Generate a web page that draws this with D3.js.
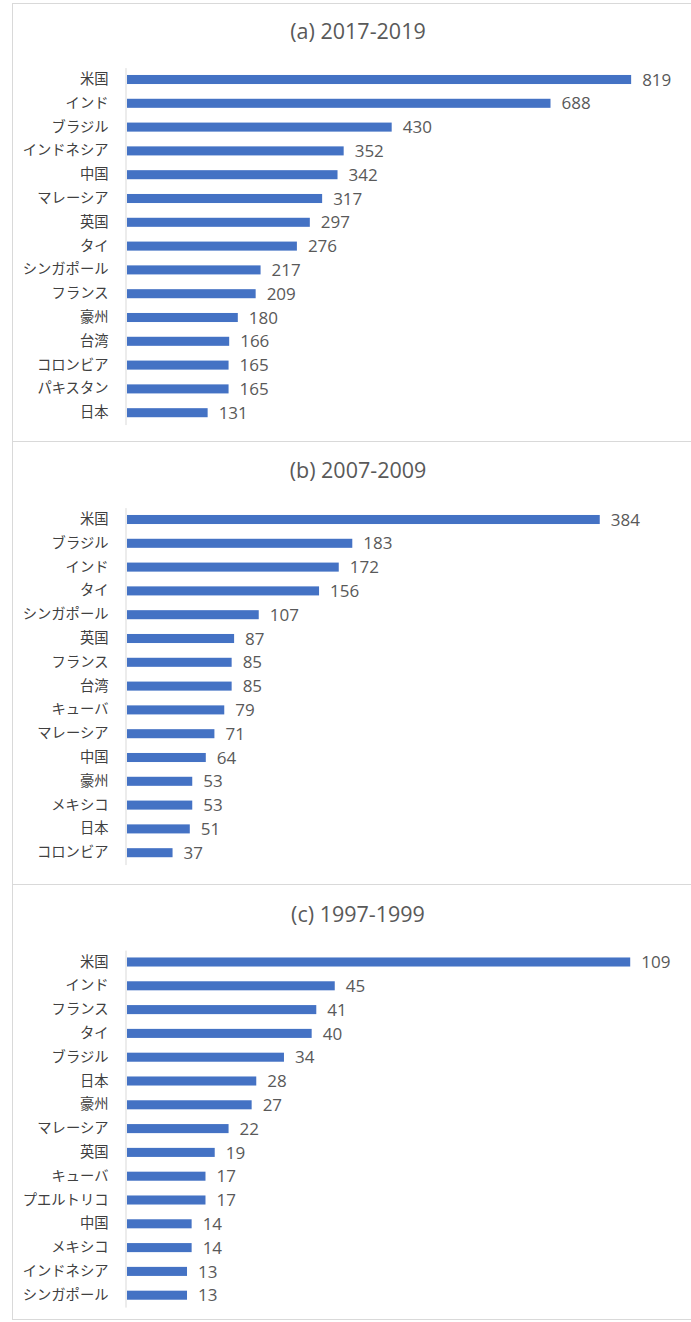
<!DOCTYPE html>
<html><head><meta charset="utf-8">
<script src="https://cdn.jsdelivr.net/npm/d3@7"></script>
<style>
html,body{margin:0;padding:0;background:#fff;}
svg{display:block;}
</style></head>
<body>
<svg id="chart" width="691" height="1322"></svg>
<script>
// ---- data ----
const titleA = "(a) 2017-2019";
const categoriesA = ["米国","インド","ブラジル","インドネシア","中国","マレーシア","英国","タイ","シンガポール","フランス","豪州","台湾","コロンビア","パキスタン","日本"];
const valuesA = [819,688,430,352,342,317,297,276,217,209,180,166,165,165,131];
const axisMaxA = 900;

const titleB = "(b) 2007-2009";
const categoriesB = ["米国","ブラジル","インド","タイ","シンガポール","英国","フランス","台湾","キューバ","マレーシア","中国","豪州","メキシコ","日本","コロンビア"];
const valuesB = [384,183,172,156,107,87,85,85,79,71,64,53,53,51,37];
const axisMaxB = 450;

const titleC = "(c) 1997-1999";
const categoriesC = ["米国","インド","フランス","タイ","ブラジル","日本","豪州","マレーシア","英国","キューバ","プエルトリコ","中国","メキシコ","インドネシア","シンガポール"];
const valuesC = [109,45,41,40,34,28,27,22,19,17,17,14,14,13,13];
const axisMaxC = 120;

// ---- layout ----
const svg = d3.select("#chart");
const W = 691;
const panels = [
  {title: titleA, cats: categoriesA, vals: valuesA, max: axisMaxA, top: 3, bottom: 441, titleY: 39, bandTop: 67.6},
  {title: titleB, cats: categoriesB, vals: valuesB, max: axisMaxB, top: 441, bottom: 884, titleY: 478, bandTop: 507.6},
  {title: titleC, cats: categoriesC, vals: valuesC, max: axisMaxC, top: 884, bottom: 1319, titleY: 922, bandTop: 950.1}
];
const step = 23.8;
const x0 = 127, x1 = 681;
const barColor = "#4472C4";
const borderColor = "#d9d9d9";

panels.forEach(p => {
  const g = svg.append("g");
  g.append("rect")
    .attr("x", 12.5).attr("y", p.top + 0.5)
    .attr("width", W + 10).attr("height", p.bottom - p.top)
    .attr("fill", "#fff").attr("stroke", borderColor).attr("stroke-width", 1);

  g.append("text")
    .attr("x", 358).attr("y", p.titleY)
    .attr("text-anchor", "middle")
    .attr("font-family", "'Open Sans', 'Noto Sans', sans-serif")
    .attr("font-size", 21.5)
    .attr("fill", "#595959")
    .text(p.title);

  const x = d3.scaleLinear().domain([0, p.max]).range([x0, x1]);
  const y = d3.scaleBand().domain(p.cats)
    .range([p.bandTop, p.bandTop + step * p.cats.length])
    .paddingInner(0.62).paddingOuter(0.31);

  const yAxis = d3.axisLeft(y).tickSize(0).tickPadding(17);
  const ag = g.append("g").attr("transform", `translate(${x0 - 1.5},0)`).call(yAxis);
  ag.select(".domain").attr("stroke", borderColor).attr("stroke-width", 1);
  ag.selectAll("text")
    .attr("font-family", "'Noto Sans CJK JP', sans-serif")
    .attr("font-size", 14.3)
    .attr("fill", "#404040");

  const data = p.cats.map((c, i) => ({c, v: p.vals[i]}));
  g.selectAll("rect.bar").data(data).enter().append("rect")
    .attr("class", "bar")
    .attr("x", x(0))
    .attr("y", d => y(d.c))
    .attr("width", d => x(d.v) - x(0))
    .attr("height", y.bandwidth())
    .attr("fill", barColor);

  g.selectAll("text.val").data(data).enter().append("text")
    .attr("class", "val")
    .attr("x", d => x(d.v) + 11)
    .attr("y", d => y(d.c) + y.bandwidth() / 2)
    .attr("dy", "0.36em")
    .attr("font-family", "'Open Sans', 'Noto Sans', sans-serif")
    .attr("font-size", 17)
    .attr("fill", "#595959")
    .text(d => d.v);
});
</script>
</body></html>
